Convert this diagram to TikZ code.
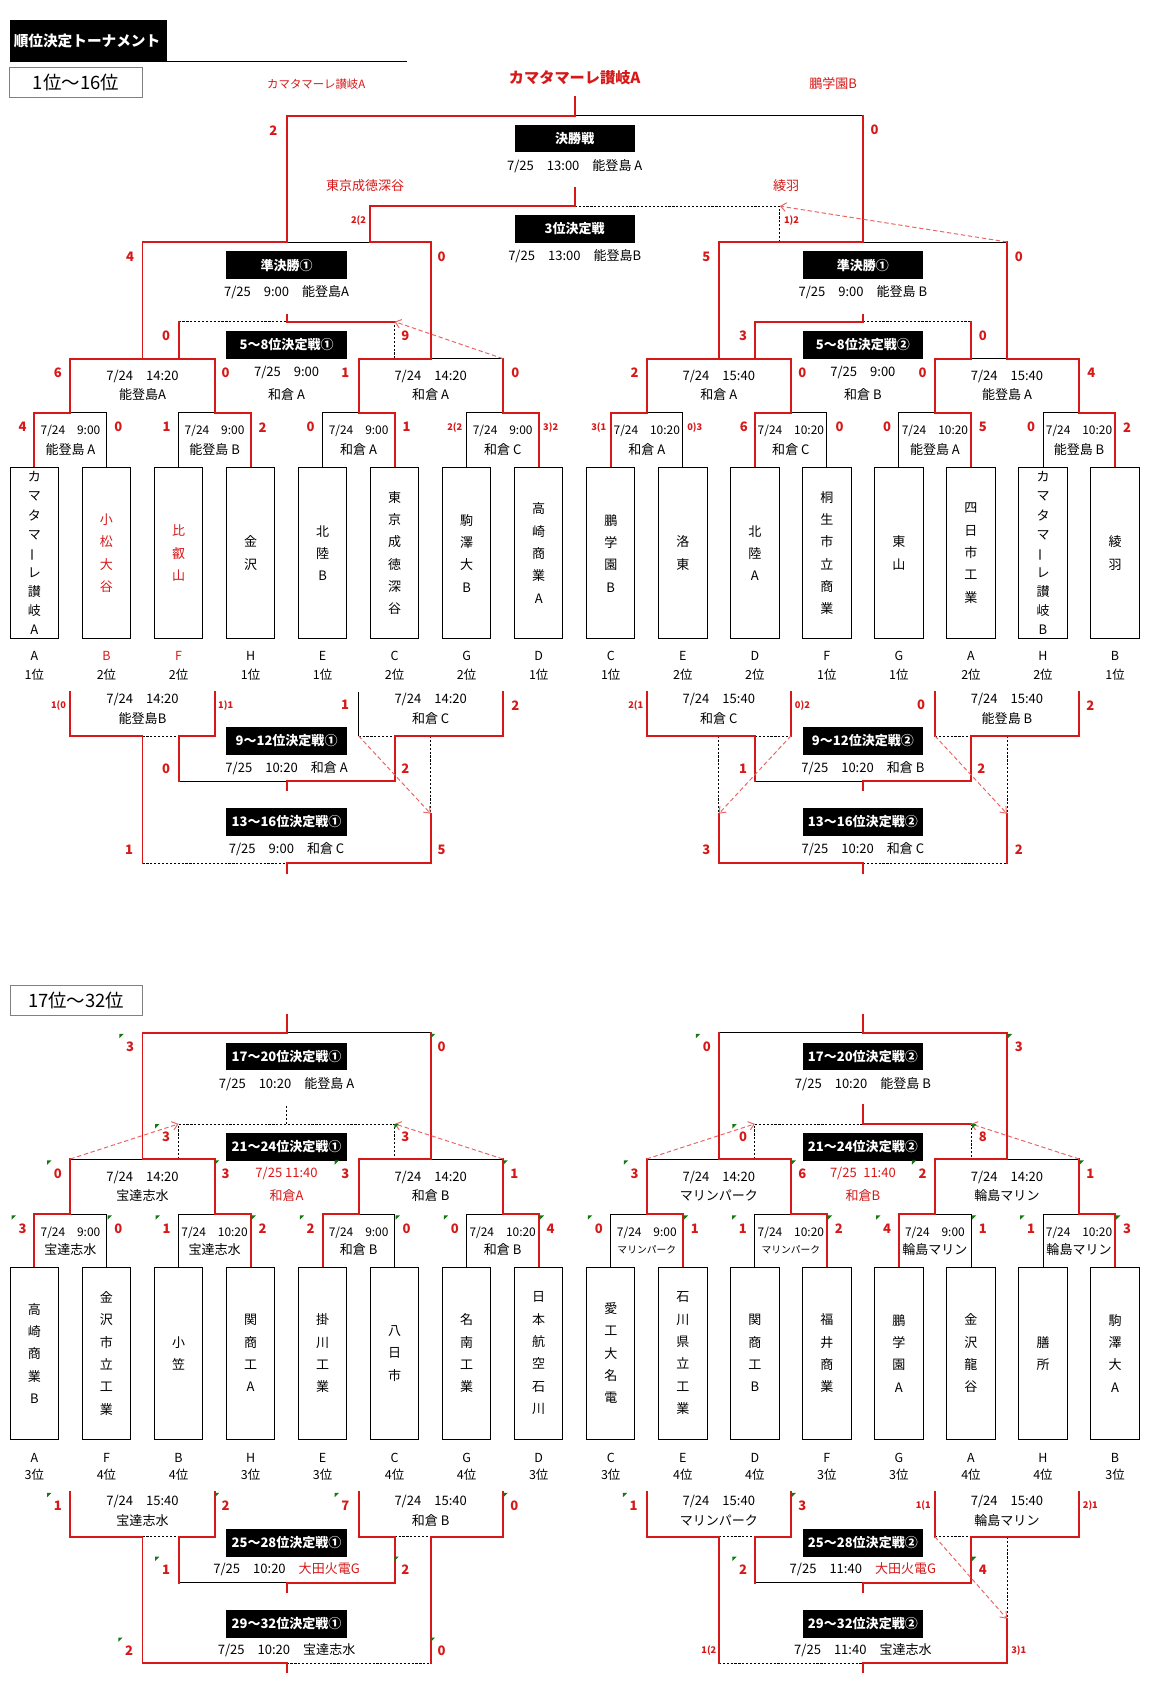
\documentclass[tikz,border=0pt]{standalone}
\usepackage{fontspec}
\setmainfont{Noto Sans CJK JP}
\usetikzlibrary{arrows.meta}
\definecolor{wred}{RGB}{214,24,24}
\definecolor{mred}{RGB}{234,100,100}
\definecolor{xgreen}{RGB}{20,118,20}
\tikzset{
  win/.style={draw=wred,line width=1.8pt,line cap=rect},
  lose/.style={draw=black,line width=0.8pt},
  tbd/.style={draw=black,line width=0.7pt,dash pattern=on 2pt off 1.6pt},
  movearrow/.style={draw=mred,line width=0.9pt,dash pattern=on 4pt off 2.5pt,-{Straight Barb[length=5pt,width=8pt]}},
  headbox/.style={fill=black,text=white,minimum width=111pt,minimum height=25.5pt,inner sep=0pt,font=\bfseries\fontsize{12}{14}\selectfont},
  team/.style={draw,line width=0.8pt,minimum width=44.5pt,minimum height=158pt,inner sep=0pt,align=center,font=\fontsize{12}{20.6}\selectfont},
  tmplain/.style={},
  tmtight/.style={font=\fontsize{12}{17.6}\selectfont},
  tmred/.style={text=wred},
  info/.style={inner sep=0pt,font=\fontsize{12}{14}\selectfont},
  sinfo/.style={inner sep=0pt,font=\fontsize{11}{13}\selectfont},
  rinfo/.style={inner sep=0pt,text=wred,font=\fontsize{12}{14}\selectfont},
  lbl/.style={inner sep=0pt,font=\fontsize{11.5}{13}\selectfont},
  score/.style={inner sep=0pt,text=wred,font=\bfseries\fontsize{12}{14}\selectfont},
  pk/.style={inner sep=0pt,text=wred,font=\bfseries\fontsize{8.5}{10}\selectfont},
  rname/.style={inner sep=0pt,text=wred,font=\fontsize{12}{14}\selectfont},
  rangebox/.style={draw=black!50,line width=0.8pt,minimum width=121.9pt,minimum height=27.7pt,inner sep=0pt,font=\fontsize{17}{20}\selectfont},
}
\begin{document}
\begin{tikzpicture}[x=1pt,y=-1pt]
\useasboundingbox (0,0) rectangle (1060,1566);
\fill (9.1,18.5) rectangle (153.8,57);
\node[anchor=west,inner sep=0pt,text=white,font=\bfseries\fontsize{13.5}{15}\selectfont] (ttl) at (12.5,37.6) {順位決定トーナメント};
\draw[lose] (153.8,56.6) -- (375,56.6);
\node[rangebox] (rg1) at (70.05,76.15) {1位～16位};
\node[rangebox] (rg2) at (70.25,921.9) {17位～32位};

% black and open lines
\foreach \j in {0,...,7}{
  \pgfmathsetmacro\ca{31.75+132.8*\j}
  \pgfmathsetmacro\cb{\ca+66.4}
  \draw[lose] (\ca,430.8) |- (\cb,380.5) -- (\cb,430.8);
  \draw[lose] (\ca,1168.2) |- (\cb,1119.2) -- (\cb,1168.2);
}
\draw[lose] (396.95,330.5) -- (463.35,330.5);
\draw[lose] (894.95,330.5) -- (928.15,330.5);
\draw[tbd] (363.75,330.5) -- (363.75,296.5);
\draw[tbd] (164.55,296.5) -- (264.15,296.5);
\draw[tbd] (795.35,296.5) -- (894.95,296.5);
\draw[lose] (264.15,223) -- (340.7,223);
\draw[lose] (795.35,223) -- (928.15,223);
\draw[tbd] (718.8,223) -- (718.8,190);
\draw[lose] (529.75,106.5) -- (795.35,106.5);
\draw[tbd] (529.75,190) -- (718.8,190);
\draw[lose] (330.55,637.5) -- (330.55,678.3);
\draw[tbd] (131.35,678.3) -- (164.55,678.3);
\draw[tbd] (330.55,678.3) -- (363.75,678.3);
\draw[tbd] (396.95,678.3) -- (396.95,750);
\draw[tbd] (695.75,678.3) -- (728.95,678.3);
\draw[tbd] (662.55,678.3) -- (662.55,750);
\draw[tbd] (861.75,678.3) -- (894.95,678.3);
\draw[tbd] (928.15,678.3) -- (928.15,750);
\draw[lose] (164.55,720) -- (264.15,720);
\draw[lose] (695.75,720) -- (795.35,720);
\draw[tbd] (131.35,795.8) -- (264.15,795.8);
\draw[tbd] (795.35,795.8) -- (928.15,795.8);
\draw[lose] (64.95,1068.2) -- (131.35,1068.2);
\draw[lose] (396.95,1068.2) -- (463.35,1068.2);
\draw[lose] (596.15,1068.2) -- (662.55,1068.2);
\draw[lose] (928.15,1068.2) -- (994.55,1068.2);
\draw[tbd] (164.55,1068.2) |- (363.75,1035.9) -- (363.75,1068.2);
\draw[tbd] (264.15,1035.9) -- (264.15,1018.9);
\draw[tbd] (695.75,1068.2) |- (795.35,1035.9);
\draw[tbd] (894.95,1035.9) -- (894.95,1068.2);
\draw[lose] (264.15,951.8) -- (396.95,951.8);
\draw[lose] (662.55,951.8) -- (795.35,951.8);
\draw[tbd] (131.35,1416.5) -- (164.55,1416.5);
\draw[tbd] (363.75,1416.5) -- (396.95,1416.5);
\draw[tbd] (662.55,1416.5) -- (695.75,1416.5);
\draw[tbd] (861.75,1416.5) -- (894.95,1416.5);
\draw[tbd] (928.15,1416.5) -- (928.15,1492);
\draw[lose] (164.55,1458.8) -- (264.15,1458.8);
\draw[lose] (695.75,1458.8) -- (795.35,1458.8);
\draw[tbd] (264.15,1533.2) -- (396.95,1533.2);
\draw[tbd] (662.55,1533.2) -- (795.35,1533.2);

% winners
\foreach \j/\w/\v in {0/0/0,1/1/1,2/1/0,3/1/1,4/0/1,5/0/1,6/1/0,7/1/1}{
  \pgfmathsetmacro\ca{31.75+132.8*\j}
  \pgfmathsetmacro\cm{\ca+33.2}
  \pgfmathsetmacro\cw{\ca+66.4*\w}
  \pgfmathsetmacro\cv{\ca+66.4*\v}
  \draw[win] (\cw,430.8) -- (\cw,380.5) -- (\cm,380.5) -- (\cm,330.5);
  \draw[win] (\cv,1168.2) -- (\cv,1119.2) -- (\cm,1119.2) -- (\cm,1068.2);
}
\draw[win] (64.95,330.5) -- (197.75,330.5);
\draw[win] (131.35,330.5) -- (131.35,223);
\draw[win] (164.55,330.5) -- (164.55,296.5);
\draw[win] (330.55,330.5) -- (396.95,330.5) -- (396.95,223);
\draw[win] (596.15,330.5) -- (728.95,330.5);
\draw[win] (662.55,330.5) -- (662.55,223);
\draw[win] (695.75,330.5) -- (695.75,296.5);
\draw[win] (861.75,330.5) -- (894.95,330.5) -- (894.95,296.5);
\draw[win] (994.55,330.5) -- (928.15,330.5) -- (928.15,223);
\draw[win] (264.15,290) -- (264.15,296.5) -- (363.75,296.5);
\draw[win] (695.75,296.5) -- (795.35,296.5) -- (795.35,290);
\draw[win] (131.35,223) -- (264.15,223) -- (264.15,106.5);
\draw[win] (396.95,223) -- (340.7,223) -- (340.7,190);
\draw[win] (662.55,223) -- (795.35,223) -- (795.35,106.5);
\draw[win] (529.75,89.5) -- (529.75,106.5) -- (264.15,106.5);
\draw[win] (529.75,173) -- (529.75,190) -- (340.7,190);
\draw[win] (64.95,637.5) |- (131.35,678.3) -- (131.35,795.8);
\draw[win] (197.75,637.5) |- (164.55,678.3) -- (164.55,720);
\draw[win] (463.35,637.5) |- (363.75,678.3) -- (363.75,720);
\draw[win] (396.95,750) -- (396.95,795.8);
\draw[win] (596.15,637.5) |- (695.75,678.3) -- (695.75,720);
\draw[win] (728.95,637.5) -- (728.95,678.3);
\draw[win] (662.55,750) -- (662.55,795.8);
\draw[win] (861.75,637.5) -- (861.75,678.3);
\draw[win] (994.55,637.5) |- (894.95,678.3) -- (894.95,720);
\draw[win] (928.15,750) -- (928.15,795.8);
\draw[win] (264.15,728.6) -- (264.15,720) -- (363.75,720);
\draw[win] (795.35,728.6) -- (795.35,720) -- (894.95,720);
\draw[win] (264.15,804.3) -- (264.15,795.8) -- (396.95,795.8);
\draw[win] (795.35,804.3) -- (795.35,795.8) -- (662.55,795.8);
\draw[win] (197.75,1068.2) -- (131.35,1068.2) -- (131.35,951.8) -- (264.15,951.8) -- (264.15,935.5);
\draw[win] (330.55,1068.2) -- (396.95,1068.2) -- (396.95,951.8);
\draw[win] (728.95,1068.2) -- (662.55,1068.2) -- (662.55,951.8);
\draw[win] (861.75,1068.2) -- (928.15,1068.2) -- (928.15,951.8) -- (795.35,951.8) -- (795.35,935.5);
\draw[win] (795.35,1018.9) -- (795.35,1035.9) -- (894.95,1035.9);
\draw[win] (64.95,1374.9) |- (131.35,1416.5) -- (131.35,1533.2) -- (264.15,1533.2) -- (264.15,1541.5);
\draw[win] (197.75,1374.9) |- (164.55,1416.5) -- (164.55,1458.8);
\draw[win] (330.55,1374.9) |- (363.75,1416.5) -- (363.75,1458.8);
\draw[win] (463.35,1374.9) |- (396.95,1416.5) -- (396.95,1533.2);
\draw[win] (264.15,1467.4) -- (264.15,1458.8) -- (363.75,1458.8);
\draw[win] (596.15,1374.9) |- (662.55,1416.5) -- (662.55,1533.2);
\draw[win] (728.95,1374.9) |- (695.75,1416.5) -- (695.75,1458.8);
\draw[win] (795.35,1467.4) -- (795.35,1458.8) -- (894.95,1458.8);
\draw[win] (861.75,1374.9) -- (861.75,1416.5);
\draw[win] (994.55,1374.9) |- (894.95,1416.5) -- (894.95,1458.8);
\draw[win] (928.15,1492) -- (928.15,1533.2) -- (795.35,1533.2) -- (795.35,1541.5);

% moved teams
\draw[movearrow] (463.35,330.5) -- (363.75,296.5);
\draw[movearrow] (928.15,223) -- (718.8,190);
\draw[movearrow] (330.55,678.3) -- (396.95,750);
\draw[movearrow] (728.95,678.3) -- (662.55,750);
\draw[movearrow] (861.75,678.3) -- (928.15,750);
\draw[movearrow] (64.95,1068.2) -- (164.55,1035.9);
\draw[movearrow] (463.35,1068.2) -- (363.75,1035.9);
\draw[movearrow] (596.15,1068.2) -- (695.75,1035.9);
\draw[movearrow] (994.55,1068.2) -- (894.95,1035.9);
\draw[movearrow] (861.75,1416.5) -- (928.15,1492);

% names over the final
\node[inner sep=0pt,text=wred,font=\bfseries\fontsize{14}{16}\selectfont] (champ) at (529.75,71.6) {カマタマーレ讃岐A};
\node[rname,font=\fontsize{10.5}{12}\selectfont] (fin1) at (291.5,77.8) {カマタマーレ讃岐A};
\node[rname] (fin2) at (768,77) {鵬学園B};
\node[rname] (thd1) at (336.5,171) {東京成徳深谷};
\node[rname] (thd2) at (724.5,171) {綾羽};

% match titles
\foreach \x/\y/\t [count=\k] in {529.75/127.7/決勝戦, 529.75/210.9/3位決定戦,
  264.15/244.3/準決勝①, 795.35/244.3/準決勝①,
  264.15/318/5～8位決定戦①, 795.35/318/5～8位決定戦②,
  264.15/683/9～12位決定戦①, 795.35/683/9～12位決定戦②,
  264.15/757.5/13～16位決定戦①, 795.35/757.5/13～16位決定戦②,
  264.15/973.8/17～20位決定戦①, 795.35/973.8/17～20位決定戦②,
  264.15/1057/21～24位決定戦①, 795.35/1057/21～24位決定戦②,
  264.15/1422/25～28位決定戦①, 795.35/1422/25～28位決定戦②,
  264.15/1496.7/29～32位決定戦①, 795.35/1496.7/29～32位決定戦②}
  \node[headbox] (h\k) at (\x,\y) {\t};

% one-line match info
\foreach \x/\y/\t [count=\k] in {
  529.75/152.8/{7/25\quad 13:00\quad 能登島 A}, 529.75/236.4/{7/25\quad 13:00\quad 能登島B},
  264.15/269.4/{7/25\quad 9:00\quad 能登島A}, 795.35/269.4/{7/25\quad 9:00\quad 能登島 B},
  264.15/708/{7/25\quad 10:20\quad 和倉 A}, 795.35/708/{7/25\quad 10:20\quad 和倉 B},
  264.15/782.8/{7/25\quad 9:00\quad 和倉 C}, 795.35/782.8/{7/25\quad 10:20\quad 和倉 C},
  264.15/998.9/{7/25\quad 10:20\quad 能登島 A}, 795.35/998.9/{7/25\quad 10:20\quad 能登島 B},
  264.15/1446.8/{7/25\quad 10:20\quad \textcolor{wred}{大田火電G}}, 795.35/1446.8/{7/25\quad 11:40\quad \textcolor{wred}{大田火電G}},
  264.15/1521.4/{7/25\quad 10:20\quad 宝達志水}, 795.35/1521.4/{7/25\quad 11:40\quad 宝達志水}}
  \node[info] (w\k) at (\x,\y) {\t};

% two-line match info
\foreach \x/\y/\g/\dt/\vn [count=\k] in {
  131.35/347/16.5/{7/24\quad 14:20}/{能登島A}, 396.95/347/16.5/{7/24\quad 14:20}/{和倉 A},
  662.55/347/16.5/{7/24\quad 15:40}/{和倉 A}, 928.15/347/16.5/{7/24\quad 15:40}/{能登島 A},
  264.15/343/20.5/{7/25\quad 9:00}/{和倉 A}, 795.35/343/20.5/{7/25\quad 9:00}/{和倉 B},
  131.35/645/17/{7/24\quad 14:20}/{能登島B}, 396.95/645/17/{7/24\quad 14:20}/{和倉 C},
  662.55/645/17/{7/24\quad 15:40}/{和倉 C}, 928.15/645/17/{7/24\quad 15:40}/{能登島 B},
  131.35/1085.3/17/{7/24\quad 14:20}/{宝達志水}, 396.95/1085.3/17/{7/24\quad 14:20}/{和倉 B},
  662.55/1085.3/17/{7/24\quad 14:20}/{マリンパーク}, 928.15/1085.3/17/{7/24\quad 14:20}/{輪島マリン},
  131.35/1383.5/17.6/{7/24\quad 15:40}/{宝達志水}, 396.95/1383.5/17.6/{7/24\quad 15:40}/{和倉 B},
  662.55/1383.5/17.6/{7/24\quad 15:40}/{マリンパーク}, 928.15/1383.5/17.6/{7/24\quad 15:40}/{輪島マリン}}
{
  \node[info] (dt\k) at (\x,\y) {\dt};
  \node[info] (vn\k) at (\x,\y+\g) {\vn};
}
\node[rinfo] (rd1) at (264.15,1081.6) {7/25 11:40};
\node[rinfo] (rv1) at (264.15,1102.3) {和倉A};
\node[rinfo] (rd2) at (795.35,1081.6) {7/25\enspace 11:40};
\node[rinfo] (rv2) at (795.35,1102.3) {和倉B};

% first round info
\foreach \j/\dt/\vn in {0/{9:00}/{能登島 A}, 1/{9:00}/{能登島 B}, 2/{9:00}/{和倉 A}, 3/{9:00}/{和倉 C},
  4/{10:20}/{和倉 A}, 5/{10:20}/{和倉 C}, 6/{10:20}/{能登島 A}, 7/{10:20}/{能登島 B}}
{
  \pgfmathsetmacro\cm{64.95+132.8*\j}
  \node[sinfo] (ra\j) at (\cm,397) {7/24\quad \dt};
  \node[info] (va\j) at (\cm,414) {\vn};
}
\foreach \j/\dt/\vn in {0/{9:00}/{宝達志水}, 1/{10:20}/{宝達志水}, 2/{9:00}/{和倉 B}, 3/{10:20}/{和倉 B},
  4/{9:00}/{\fontsize{9}{10}\selectfont マリンパーク}, 5/{10:20}/{\fontsize{9}{10}\selectfont マリンパーク},
  6/{9:00}/{輪島マリン}, 7/{10:20}/{輪島マリン}}
{
  \pgfmathsetmacro\cm{64.95+132.8*\j}
  \node[sinfo] (rb\j) at (\cm,1136.2) {7/24\quad \dt};
  \node[info] (vb\j) at (\cm,1151.5) {\vn};
}

% teams
\foreach \i/\nm/\st in {0/{カ\\マ\\タ\\マ\\\rotatebox[origin=c]{90}{ー}\\レ\\讃\\岐\\A}/tmtight,
  1/{小\\松\\大\\谷}/tmred, 2/{比\\叡\\山}/tmred, 3/{金\\沢}/tmplain, 4/{北\\陸\\B}/tmplain,
  5/{東\\京\\成\\徳\\深\\谷}/tmplain, 6/{駒\\澤\\大\\B}/tmplain, 7/{高\\崎\\商\\業\\A}/tmplain,
  8/{鵬\\学\\園\\B}/tmplain, 9/{洛\\東}/tmplain, 10/{北\\陸\\A}/tmplain,
  11/{桐\\生\\市\\立\\商\\業}/tmplain, 12/{東\\山}/tmplain, 13/{四\\日\\市\\工\\業}/tmplain,
  14/{カ\\マ\\タ\\マ\\\rotatebox[origin=c]{90}{ー}\\レ\\讃\\岐\\B}/tmtight, 15/{綾\\羽}/tmplain}
{
  \pgfmathsetmacro\cx{31.75+66.4*\i}
  \node[team,\st] (ta\i) at (\cx,509.8) {\nm};
}
\foreach \i/\nm in {0/{高\\崎\\商\\業\\B}, 1/{金\\沢\\市\\立\\工\\業}, 2/{小\\笠}, 3/{関\\商\\工\\A},
  4/{掛\\川\\工\\業}, 5/{八\\日\\市}, 6/{名\\南\\工\\業}, 7/{日\\本\\航\\空\\石\\川},
  8/{愛\\工\\大\\名\\電}, 9/{石\\川\\県\\立\\工\\業}, 10/{関\\商\\工\\B}, 11/{福\\井\\商\\業},
  12/{鵬\\学\\園\\A}, 13/{金\\沢\\龍\\谷}, 14/{膳\\所}, 15/{駒\\澤\\大\\A}}
{
  \pgfmathsetmacro\cx{31.75+66.4*\i}
  \node[team] (tb\i) at (\cx,1247.3) {\nm};
}

% groups and ranks
\foreach \i/\g/\r/\st in {0/A/1/tmplain, 1/B/2/tmred, 2/F/2/tmred, 3/H/1/tmplain,
  4/E/1/tmplain, 5/C/2/tmplain, 6/G/2/tmplain, 7/D/1/tmplain,
  8/C/1/tmplain, 9/E/2/tmplain, 10/D/2/tmplain, 11/F/1/tmplain,
  12/G/1/tmplain, 13/A/2/tmplain, 14/H/2/tmplain, 15/B/1/tmplain}
{
  \pgfmathsetmacro\cx{31.75+66.4*\i}
  \node[lbl,\st] (ga\i) at (\cx,605) {\g};
  \node[lbl] (pa\i) at (\cx,621.5) {{\r}位};
}
\foreach \i/\g/\r in {0/A/3, 1/F/4, 2/B/4, 3/H/3, 4/E/3, 5/C/4, 6/G/4, 7/D/3,
  8/C/3, 9/E/4, 10/D/4, 11/F/3, 12/G/3, 13/A/4, 14/H/4, 15/B/3}
{
  \pgfmathsetmacro\cx{31.75+66.4*\i}
  \node[lbl] (gb\i) at (\cx,1343.4) {\g};
  \node[lbl] (pb\i) at (\cx,1359.4) {{\r}位};
}

% scores 1-16
\foreach \x/\y/\s [count=\k] in {252/120/2, 806/120/0,
  120/236.4/4, 407/236.4/0, 651/236.4/5, 939/236.4/0,
  153/309.5/0, 373.5/309.5/9, 685/309.5/3, 906/309.5/0,
  53.4/343.5/6, 208/343.5/0, 318.4/343.5/1, 475/343.5/0,
  585/343.5/2, 739.6/343.5/0, 850.4/343.5/0, 1006/343.5/4,
  20.75/393.8/4, 109.15/393.8/0, 153.55/393.8/1, 241.95/393.8/2,
  286.35/393.8/0, 374.75/393.8/1, 685.5/393.8/6, 773.9/393.8/0,
  817.55/393.8/0, 905.95/393.8/5, 950.35/393.8/0, 1038.75/393.8/2,
  318/650/1, 475/650/2, 849/650/0, 1005/650/2,
  153/708.5/0, 373.5/708.5/2, 685/708.5/1, 904.5/708.5/2,
  119/783/1, 407/783/5, 651/783/3, 939/783/2}
  \node[score] (sa\k) at (\x,\y) {\s};
\foreach \x/\y/\s [count=\k] in {330.5/203/{2(2}, 729.5/203/{1)2},
  419.15/393.8/{2(2}, 507.55/393.8/{3)2}, 551.95/393.8/{3(1}, 640.35/393.8/{0)3},
  54/650/{1(0}, 208/650/{1)1}, 586/650/{2(1}, 739.6/650/{0)2},
  851/1388.1/{1(1}, 1005/1388.1/{2)1}, 653.4/1521.4/{1(2}, 939/1521.4/{3)1}}
  \node[pk] (pk\k) at (\x,\y) {\s};

% scores 17-32
\foreach \x/\y/\s [count=\k] in {120/965/3, 407/965/0, 651.4/965/0, 939/965/3,
  153/1048.2/3, 373.5/1048.2/3, 685/1048.2/0, 906/1048.2/8,
  53.4/1081.6/0, 208/1081.6/3, 318.4/1081.6/3, 474/1081.6/1,
  585/1081.6/3, 739.6/1081.6/6, 850.4/1081.6/2, 1005/1081.6/1,
  20.75/1132.2/3, 109.15/1132.2/0, 153.55/1132.2/1, 241.95/1132.2/2,
  286.35/1132.2/2, 374.75/1132.2/0, 419.15/1132.2/0, 507.55/1132.2/4,
  551.95/1132.2/0, 640.35/1132.2/1, 684.75/1132.2/1, 773.15/1132.2/2,
  817.55/1132.2/4, 905.95/1132.2/1, 950.35/1132.2/1, 1038.75/1132.2/3,
  53.4/1388.1/1, 208/1388.1/2, 318.4/1388.1/7, 474/1388.1/0,
  584/1388.1/1, 739.6/1388.1/3,
  153/1446.8/1, 373.5/1446.8/2, 685/1446.8/2, 906/1446.8/4,
  119/1521.4/2, 407/1521.4/0}
{
  \node[score] (sb\k) at (\x,\y) {\s};
  \fill[xgreen] (\x-10,\y-12) -- ++(4,0) -- ++(-4,4) -- cycle;
}
\end{tikzpicture}
\end{document}
